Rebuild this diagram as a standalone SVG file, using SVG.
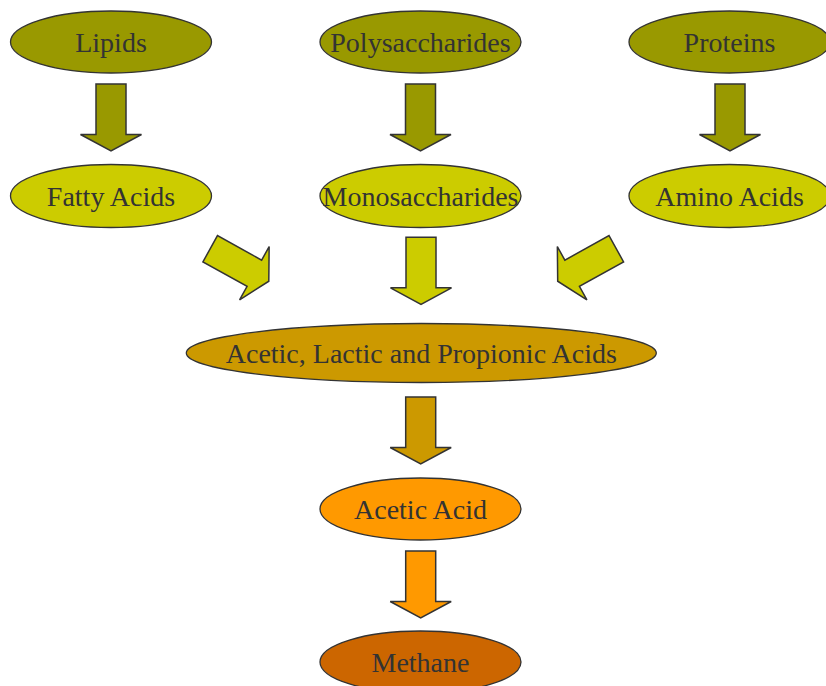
<svg xmlns="http://www.w3.org/2000/svg" width="826" height="686" viewBox="0 0 826 686">
<style>
  .n ellipse { stroke: #333333; stroke-width: 1.3; }
  .c use { stroke: #333333; stroke-width: 1.5; stroke-linejoin: miter; }
  text { font-family: "Liberation Serif", "Times New Roman", serif; font-size: 28px; fill: #333333; text-anchor: middle; }
  .l1 { fill: #999900; }
  .l2 { fill: #CCCC00; }
  .l3 { fill: #CC9900; }
  .l4 { fill: #FF9900; }
  .l5 { fill: #CC6600; }
</style>
<defs>
  <path id="arr" d="M-15,-33.5 H15 V17 H30.5 L0,33.5 L-30.5,17 H-15 Z"/>
</defs>
<rect width="826" height="686" fill="#ffffff"/>
<g id="connectors" class="c" stroke="#333333" stroke-width="1.5">
  <use href="#arr" class="l1" transform="translate(111,117.5)"/>
  <use href="#arr" class="l1" transform="translate(420.5,117.5)"/>
  <use href="#arr" class="l1" transform="translate(730,117.5)"/>
  <use href="#arr" class="l2" transform="translate(239.5,265) rotate(-61)"/>
  <use href="#arr" class="l2" transform="translate(421,270.8)"/>
  <use href="#arr" class="l2" transform="translate(587,265) rotate(61)"/>
  <use href="#arr" class="l3" transform="translate(420.7,430.5)"/>
  <use href="#arr" class="l4" transform="translate(420.7,584.5)"/>
</g>
<g id="lipids" class="n"><ellipse class="l1" cx="111" cy="42" rx="100.5" ry="31"/><text x="111" y="52">Lipids</text></g>
<g id="polysaccharides" class="n"><ellipse class="l1" cx="420.5" cy="42" rx="100.5" ry="31"/><text x="420.5" y="52">Polysaccharides</text></g>
<g id="proteins" class="n"><ellipse class="l1" cx="729.5" cy="42" rx="100.5" ry="31"/><text x="729.5" y="52">Proteins</text></g>
<g id="fatty-acids" class="n"><ellipse class="l2" cx="111" cy="196" rx="100.5" ry="31.5"/><text x="111" y="206">Fatty Acids</text></g>
<g id="monosaccharides" class="n"><ellipse class="l2" cx="420.5" cy="196" rx="100.5" ry="31.5"/><text x="420.5" y="206">Monosaccharides</text></g>
<g id="amino-acids" class="n"><ellipse class="l2" cx="729.5" cy="196" rx="100.5" ry="31.5"/><text x="729.5" y="206">Amino Acids</text></g>
<g id="acetic-lactic-propionic" class="n"><ellipse class="l3" cx="421.3" cy="353" rx="235" ry="29.5"/><text x="421.3" y="363">Acetic, Lactic and Propionic Acids</text></g>
<g id="acetic-acid" class="n"><ellipse class="l4" cx="420.5" cy="509" rx="100.5" ry="31"/><text x="420.5" y="519">Acetic Acid</text></g>
<g id="methane" class="n"><ellipse class="l5" cx="420.5" cy="662" rx="100.5" ry="31"/><text x="420.5" y="672">Methane</text></g>
</svg>
